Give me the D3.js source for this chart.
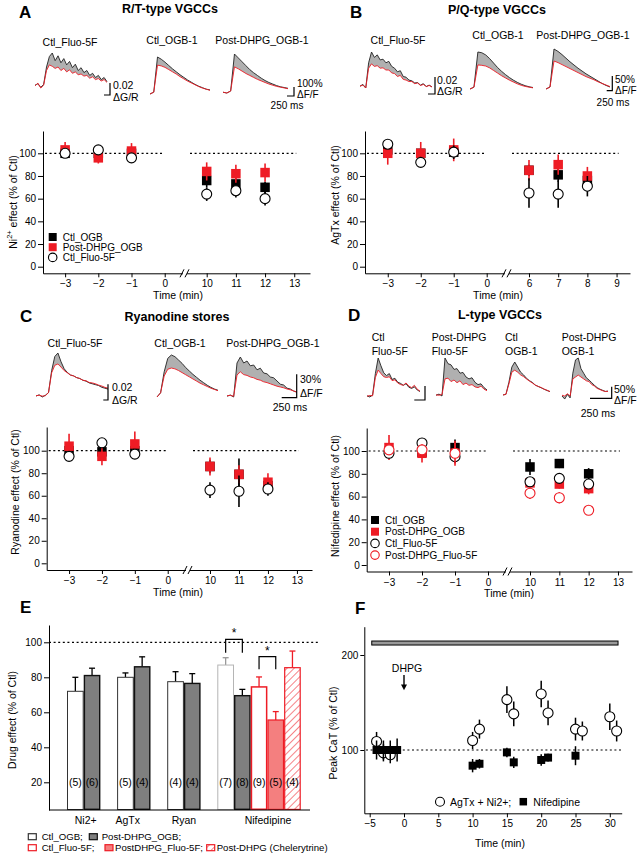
<!DOCTYPE html>
<html><head><meta charset="utf-8">
<script src="https://cdn.jsdelivr.net/npm/d3@7"></script>
<style>body{margin:0;background:#fff} svg{display:block}</style>
</head><body><svg id="c" width="639" height="853"></svg>
<script>
// ---------------- DATA ----------------
// Panel A: R/T-type VGCCs (Ni2+)
const timeA = [-3,-2,-1,10,11,12];
const ticksA = [-3,-2,-1,0,10,11,12,13];
const niCtlOGB = [100,100,100,76,73,70];
const niCtlOGBErr = [3,3,3,6,5,5];
const niPostOGB = [103,96,102,84,82,83];
const niPostOGBErr = [7,5,7,8,8,8];
const niCtlFluo = [100,103,96,64,67,60];
const niCtlFluoErr = [4,4,4,6,6,6];
// Panel B: P/Q-type VGCCs (AgTx)
const timeB = [-3,-2,-1,6,7,8];
const ticksB = [-3,-2,-1,0,6,7,8,9];
const agCtlOGB = [103,100,101,85,81,76];
const agCtlOGBErr = [4,3,3,5,6,4];
const agPostOGB = [100,100,103,85,90,80];
const agPostOGBErr = [10,10,10,9,9,8];
const agCtlFluo = [108,92,101,65,64,71];
const agCtlFluoErr = [3,4,6,13,12,9];
// Panel C: Ryanodine stores
const timeC = [-3,-2,-1,10,11,12];
const ticksC = [-3,-2,-1,0,10,11,12,13];
const ryCtlOGB = [100,99,100,86,79,69];
const ryCtlOGBErr = [4,4,4,6,14,5];
const ryPostOGB = [104,95,106,86,79,72];
const ryPostOGBErr = [11,8,11,8,8,8];
const ryCtlFluo = [95,107,97,65,64,66];
const ryCtlFluoErr = [3,3,3,7,14,6];
// Panel D: L-type VGCCs (Nifedipine)
const timeD = [-3,-2,-1,10,11,12];
const ticksD = [-3,-2,-1,0,10,11,12,13];
const nfCtlOGB = [100,99,103,86,89,80];
const nfCtlOGBErr = [4,4,7,7,4,5];
const nfPostOGB = [103,98,98,72,71,67];
const nfPostOGBErr = [11,8,9,4,4,5];
const nfCtlFluo = [98,107,95,73,76,71];
const nfCtlFluoErr = [4,3,5,4,3,4];
const nfPostFluo = [101,101,98,63,59,48];
const nfPostFluoErr = [3,5,11,5,5,4];
const yTicksPct = [0,20,40,60,80,100];

// Panel E: drug effect summary
const eGroups = ["Ni2+","AgTx","Ryan","Nifedipine"];
const eSeries = ["Ctl_OGB;","Post-DHPG_OGB;","Ctl_Fluo-5F;","PostDHPG_Fluo-5F;","Post-DHPG (Chelerytrine)"];
const eValues = [[72,81],[80,86],[77.5,76.5],[87,69.5,74.5,55.6,85.5]];
const eErrors = [[8,4.2],[2.5,5.7],[5.7,5.6],[4.2,3.6,5.7,4.8,9.5]];
const eN = [[5,6],[5,4],[4,4],[7,8,9,5,4]];
const eTicks = [20,40,60,80,100];

// Panel F: time course
const fTimeAgNi = [-4,-3,-2,10,11,15,16,20,21,25,26,30,31];
const fAgNi = [109,97,95,110,122,153,138,159,139,122,120,135,120];
const fAgNiErr = [10,9,9,9,10,14,13,14,13,12,10,14,11];
const fTimeNif = [-4,-3,-2,-1,10,11,15,16,20,21,25];
const fNif = [100,100,100,100,83.5,85.5,97.5,87,89.5,92,94];
const fNifErr = [10,10,10,12,7,5,5,6,6,4,10];
const fTicksX = [-5,0,5,10,15,20,25,30];
const fTicksY = [100,200];
const fDrugPeriod = [-4.7,31.2];
const fDrugLevel = [210.5,214.7];
const fDHPGTime = 0;

// Example Ca transients (normalised amplitude, ctl = black, drug = red)
const trA1Ctl = [0.08,0.12,0.02,0.1,0.6,0.9,1.0,0.78,0.92,0.72,0.84,0.66,0.76,0.58,0.68,0.5,0.58,0.44,0.5,0.36,0.42,0.3,0.36,0.24,0.3,0.18];
const trA1Drug = [0.06,0.14,0.0,0.08,0.5,0.66,0.62,0.56,0.6,0.5,0.56,0.46,0.52,0.42,0.46,0.38,0.4,0.34,0.36,0.28,0.32,0.24,0.27,0.2,0.24,0.16];
const trA2Ctl = [0,0.05,1.0,0.94,0.86,0.77,0.68,0.6,0.52,0.45,0.38,0.32,0.26,0.21,0.17,0.13,0.11];
const trA2Drug = [0,0.05,0.78,0.76,0.72,0.66,0.6,0.54,0.47,0.41,0.35,0.3,0.25,0.2,0.16,0.13,0.1];
const trA3Ctl = [0.02,0.0,0.05,1.0,0.9,0.8,0.7,0.6,0.52,0.45,0.38,0.32,0.27,0.23,0.19,0.16,0.14,0.12];
const trA3Drug = [0.02,0.0,0.05,0.67,0.62,0.56,0.5,0.45,0.4,0.35,0.31,0.27,0.23,0.2,0.17,0.15,0.13,0.11];
const trB1Ctl = [0.05,0.1,0.0,0.7,1.0,0.85,0.92,0.78,0.8,0.7,0.74,0.6,0.55,0.45,0.48,0.32,0.3,0.22,0.2,0.14,0.15,0.08,0.12,0.04,0.08,0.03];
const trB1Drug = [0.05,0.08,0.0,0.55,0.67,0.6,0.62,0.55,0.56,0.5,0.5,0.42,0.4,0.32,0.35,0.24,0.22,0.18,0.18,0.12,0.14,0.07,0.1,0.04,0.07,0.03];
const trB2Ctl = [0,0.05,1.0,0.98,0.92,0.82,0.7,0.58,0.48,0.39,0.31,0.24,0.18,0.13,0.09,0.06,0.04];
const trB2Drug = [0,0.05,0.65,0.64,0.62,0.57,0.5,0.43,0.36,0.3,0.24,0.19,0.14,0.1,0.07,0.05,0.03];
const trB3Ctl = [0,0.05,1.0,0.94,0.86,0.77,0.68,0.6,0.52,0.45,0.38,0.32,0.26,0.2,0.14,0.09,0.05];
const trB3Drug = [0,0.05,0.7,0.66,0.61,0.56,0.51,0.46,0.41,0.36,0.31,0.27,0.23,0.18,0.14,0.1,0.06];
const trC1Ctl = [0.02,0.05,0.0,0.04,0.1,0.6,0.92,1.0,0.8,0.64,0.56,0.5,0.48,0.44,0.42,0.38,0.36,0.32,0.3,0.28,0.26,0.22,0.2,0.18];
const trC1Drug = [0.03,0.04,0.02,0.03,0.1,0.55,0.72,0.75,0.68,0.6,0.55,0.5,0.48,0.44,0.42,0.38,0.37,0.33,0.32,0.3,0.27,0.25,0.22,0.2];
const trC2Ctl = [0,0.1,0.6,0.92,1.0,0.96,0.88,0.8,0.7,0.62,0.54,0.47,0.4,0.34,0.28,0.23,0.19,0.16];
const trC2Drug = [0,0.1,0.5,0.66,0.69,0.67,0.63,0.58,0.53,0.48,0.43,0.38,0.33,0.29,0.25,0.21,0.18,0.15];
const trC3Ctl = [0.02,0.05,0.0,0.85,1.0,0.85,0.9,0.78,0.8,0.68,0.72,0.6,0.58,0.5,0.48,0.4,0.32,0.3,0.22,0.2,0.15,0.12];
const trC3Drug = [0.03,0.04,0.02,0.55,0.63,0.56,0.54,0.5,0.48,0.44,0.42,0.38,0.36,0.33,0.3,0.27,0.25,0.23,0.2,0.18,0.15,0.12];
const trD1Ctl = [0.03,0.0,0.05,0.6,1.0,0.8,0.62,0.55,0.6,0.45,0.48,0.38,0.35,0.3,0.34,0.25,0.22,0.26,0.18,0.14];
const trD1Drug = [0.02,0.04,0.03,0.5,0.69,0.6,0.52,0.5,0.52,0.42,0.44,0.36,0.32,0.3,0.36,0.28,0.24,0.3,0.2,0.15];
const trD2Ctl = [0.02,0.05,0.0,1.0,0.85,0.82,0.7,0.72,0.6,0.62,0.5,0.45,0.48,0.36,0.3,0.32,0.22,0.16];
const trD2Drug = [0.03,0.02,0.04,0.45,0.47,0.38,0.42,0.35,0.4,0.3,0.34,0.28,0.3,0.24,0.22,0.26,0.18,0.14];
const trD3Ctl = [0.03,0.05,0.4,0.85,1.0,0.85,0.7,0.62,0.52,0.45,0.4,0.32,0.28,0.24,0.2,0.16,0.13];
const trD3Drug = [0.03,0.05,0.35,0.7,0.76,0.7,0.62,0.57,0.5,0.44,0.38,0.32,0.28,0.25,0.2,0.17,0.13];
const trD4Ctl = [0.0,-0.08,0.04,-0.05,0.6,0.95,1.0,0.72,0.6,0.48,0.42,0.35,0.28,0.22,0.18,0.15,0.12,0.13];
const trD4Drug = [0.02,0.0,0.06,0.0,0.45,0.5,0.55,0.5,0.45,0.4,0.38,0.3,0.26,0.2,0.17,0.14,0.12,0.12];

// ---------------- DRAWING ----------------
const FONT = '"Liberation Sans", Arial, Helvetica, sans-serif';
const RED = "#ee1c25";
const svg = d3.select("#c").attr("font-family", FONT);

function txt(x, y, s, o = {}) {
  return svg.append("text").attr("x", x).attr("y", y).text(s)
    .attr("font-size", o.size || 10).attr("text-anchor", o.anchor || "start")
    .attr("font-weight", o.weight || "normal").attr("fill", o.fill || "#000")
    .attr("dominant-baseline", "central");
}
function vtxt(x, y, s, size) {
  return svg.append("text").attr("transform", `translate(${x},${y}) rotate(-90)`)
    .attr("text-anchor", "middle").attr("dominant-baseline", "central")
    .attr("font-size", size || 10.5).text(s);
}
function styleAxis(a) {
  a.attr("font-family", FONT).attr("font-size", 10);
  a.selectAll("path,line").attr("stroke", "#000").attr("stroke-width", 1);
  a.selectAll("text").attr("fill", "#000");
}
function hatchDefs() {
  const p = svg.append("defs").append("pattern").attr("id", "hatch")
    .attr("patternUnits", "userSpaceOnUse").attr("width", 5).attr("height", 5)
    .attr("patternTransform", "rotate(45)");
  p.append("rect").attr("width", 5).attr("height", 5).attr("fill", "#fff");
  p.append("line").attr("x1", 0).attr("y1", 0).attr("x2", 0).attr("y2", 5)
    .attr("stroke", RED).attr("stroke-width", 1.1);
}
hatchDefs();

function marker(g, cx, cy, shape, color, size) {
  if (shape === "square") {
    g.append("rect").attr("x", cx - size / 2).attr("y", cy - size / 2)
      .attr("width", size).attr("height", size).attr("fill", color);
  } else {
    g.append("circle").attr("cx", cx).attr("cy", cy).attr("r", size / 2)
      .attr("fill", "#fff").attr("stroke", color).attr("stroke-width", 1.1);
  }
}

function scatterPanel(p) {
  const g = svg.append("g");
  const x = d3.scaleLinear().domain(p.xDom).range(p.xRng);
  const yb = d3.scaleLinear().domain([0, 100]).range([p.y0, p.y100]);
  const y = yb.copy().domain([yb.invert(p.bottom), yb.invert(p.top)]).range([p.bottom, p.top]);
  const ya = g.append("g").attr("transform", `translate(${p.xRng[0]},0)`)
    .call(d3.axisLeft(y).tickValues(yTicksPct).tickSize(5).tickPadding(2).tickSizeOuter(0));
  const xa = g.append("g").attr("transform", `translate(0,${p.bottom})`)
    .call(d3.axisBottom(x).tickValues(p.ticks).tickSize(4).tickPadding(3).tickSizeOuter(0));
  styleAxis(ya); styleAxis(xa);
  // axis break
  const bx = (p.xRng[1] + p.xRng[2]) / 2;
  g.append("rect").attr("x", bx - 2).attr("y", p.bottom - 2).attr("width", 4).attr("height", 4).attr("fill", "#fff");
  [-3, 2].forEach(d => g.append("line").attr("x1", bx + d - 2).attr("y1", p.bottom + 4)
    .attr("x2", bx + d + 2).attr("y2", p.bottom - 4).attr("stroke", "#000").attr("stroke-width", 1));
  // 100% reference lines
  const dash = (x1, x2) => g.append("line").attr("x1", x1).attr("x2", x2)
    .attr("y1", y(100)).attr("y2", y(100)).attr("stroke", "#000")
    .attr("stroke-width", 1.2).attr("stroke-dasharray", "2,2.6");
  dash(p.xRng[0] + 2, x(0) - 1);
  dash(p.xRng[2] + 3, x(p.ticks[p.ticks.length - 1]) + 2);
  // series
  p.series.forEach(s => {
    s.vals.forEach((v, i) => {
      g.append("line").attr("x1", x(p.time[i])).attr("x2", x(p.time[i]))
        .attr("y1", y(v - s.err[i])).attr("y2", y(v + s.err[i]))
        .attr("stroke", s.color).attr("stroke-width", 1.6);
    });
    s.vals.forEach((v, i) => marker(g, x(p.time[i]), y(v), s.shape, s.color, s.shape === "square" ? 9.5 : 10));
  });
  // legend
  if (p.legend) {
    p.series.forEach((s, i) => {
      const ly = p.legend.y + i * p.legend.dy;
      marker(g, p.legend.x, ly, s.shape, s.color, s.shape === "square" ? 8 : 8.5);
      txt(p.legend.x + 10, ly, s.name, { size: 10 });
    });
  }
  txt(p.timeX, p.timeY, "Time (min)", { size: 10.5, anchor: "middle" });
}

function tracePanel(list) {
  list.forEach(t => {
    const n = t.ctl.length;
    const x = d3.scaleLinear().domain([0, n - 1]).range([t.x0, t.x1]);
    const y = d3.scaleLinear().domain([0, 1]).range([t.base, t.base - t.amp]);
    const idx = d3.range(n);
    svg.append("path").datum(idx)
      .attr("d", d3.area().x(i => x(i)).y0(i => y(t.drug[i])).y1(i => y(t.ctl[i])))
      .attr("fill", "#b0b0b0");
    svg.append("path").datum(t.ctl).attr("d", d3.line().x((d, i) => x(i)).y(d => y(d)))
      .attr("fill", "none").attr("stroke", "#222").attr("stroke-width", 0.9);
    svg.append("path").datum(t.drug).attr("d", d3.line().x((d, i) => x(i)).y(d => y(d)))
      .attr("fill", "none").attr("stroke", RED).attr("stroke-width", 0.9);
  });
}
function scaleBar(b) {
  svg.append("path").attr("d", `M${b.hx},${b.y2}H${b.x}V${b.y1}`)
    .attr("fill", "none").attr("stroke", "#000").attr("stroke-width", 1.2);
}

// ---- titles ----
txt(19, 12, "A", { size: 17, weight: "bold" });
txt(170, 9, "R/T-type VGCCs", { size: 12.5, weight: "bold", anchor: "middle" });
txt(350, 12, "B", { size: 17, weight: "bold" });
txt(497, 10, "P/Q-type VGCCs", { size: 12.5, weight: "bold", anchor: "middle" });
txt(20, 316, "C", { size: 17, weight: "bold" });
txt(177, 317, "Ryanodine stores", { size: 12.5, weight: "bold", anchor: "middle" });
txt(348, 315, "D", { size: 17, weight: "bold" });
txt(500, 315, "L-type VGCCs", { size: 12.5, weight: "bold", anchor: "middle" });
txt(20, 607, "E", { size: 17, weight: "bold" });
txt(355, 608, "F", { size: 17, weight: "bold" });

// ---- trace labels ----
txt(70, 42, "Ctl_Fluo-5F", { anchor: "middle", size: 10.5 });
txt(172, 40, "Ctl_OGB-1", { anchor: "middle", size: 10.5 });
txt(262, 40, "Post-DHPG_OGB-1", { anchor: "middle", size: 10.5 });
txt(398, 40, "Ctl_Fluo-5F", { anchor: "middle", size: 10.5 });
txt(498, 35, "Ctl_OGB-1", { anchor: "middle", size: 10.5 });
txt(583, 35, "Post-DHPG_OGB-1", { anchor: "middle", size: 10.5 });
txt(75, 343, "Ctl_Fluo-5F", { anchor: "middle", size: 10.5 });
txt(180, 343, "Ctl_OGB-1", { anchor: "middle", size: 10.5 });
txt(273, 343, "Post-DHPG_OGB-1", { anchor: "middle", size: 10.5 });
[["Ctl", "Fluo-5F", 371.7], ["Post-DHPG", "Fluo-5F", 431.7], ["Ctl", "OGB-1", 505], ["Post-DHPG", "OGB-1", 561.7]]
  .forEach(l => { txt(l[2], 337, l[0], { size: 10.5 }); txt(l[2], 350.5, l[1], { size: 10.5 }); });

// ---- traces ----
tracePanel([
  { x0: 35, x1: 107, base: 88, amp: 35, ctl: trA1Ctl, drug: trA1Drug },
  { x0: 150, x1: 210, base: 94, amp: 37, ctl: trA2Ctl, drug: trA2Drug },
  { x0: 223, x1: 288, base: 93, amp: 39, ctl: trA3Ctl, drug: trA3Drug },
  { x0: 360, x1: 432, base: 88, amp: 36, ctl: trB1Ctl, drug: trB1Drug },
  { x0: 470, x1: 533, base: 89, amp: 37, ctl: trB2Ctl, drug: trB2Drug },
  { x0: 546, x1: 610, base: 89, amp: 40, ctl: trB3Ctl, drug: trB3Drug },
  { x0: 36, x1: 108, base: 397, amp: 44, ctl: trC1Ctl, drug: trC1Drug },
  { x0: 157, x1: 218, base: 397, amp: 42, ctl: trC2Ctl, drug: trC2Drug },
  { x0: 227, x1: 297, base: 397, amp: 40, ctl: trC3Ctl, drug: trC3Drug },
  { x0: 367, x1: 420, base: 397, amp: 39, ctl: trD1Ctl, drug: trD1Drug },
  { x0: 436, x1: 487, base: 396, amp: 38, ctl: trD2Ctl, drug: trD2Drug },
  { x0: 503, x1: 550, base: 396, amp: 34, ctl: trD3Ctl, drug: trD3Drug },
  { x0: 562, x1: 608, base: 396, amp: 38, ctl: trD4Ctl, drug: trD4Drug }
]);
[
  { x: 110, y1: 83, y2: 95, hx: 104 }, { x: 294, y1: 87, y2: 96, hx: 287 },
  { x: 435, y1: 77, y2: 94, hx: 428 }, { x: 612.3, y1: 76, y2: 90.7, hx: 606.7 },
  { x: 108, y1: 384.3, y2: 400, hx: 103.3 }, { x: 296.7, y1: 374.3, y2: 397.7, hx: 281.7 },
  { x: 425, y1: 386, y2: 400, hx: 414.3 }, { x: 611.7, y1: 386.7, y2: 398.3, hx: 590 }
].forEach(scaleBar);
const sb = { size: 10.5 };
txt(113, 85, "0.02", sb); txt(113, 97, "\u0394G/R", sb);
txt(297, 83.5, "100%", { size: 10 }); txt(297, 94, "\u0394F/F", { size: 10 }); txt(287, 105.5, "250 ms", { size: 10, anchor: "middle" });
txt(437, 80, "0.02", sb); txt(437, 91, "\u0394G/R", sb);
txt(615, 79.5, "50%", { size: 10 }); txt(615, 90, "\u0394F/F", { size: 10 }); txt(613, 102, "250 ms", { size: 10, anchor: "middle" });
txt(112, 387, "0.02", sb); txt(112, 400, "\u0394G/R", sb);
txt(300, 379, "30%", sb); txt(300, 392.7, "\u0394F/F", sb); txt(290, 407.3, "250 ms", { size: 10.5, anchor: "middle" });
txt(614, 388.5, "50%", sb); txt(614, 400, "\u0394F/F", sb); txt(598, 413.3, "250 ms", { size: 10.5, anchor: "middle" });

// ---- scatter panels ----
scatterPanel({
  time: timeA, ticks: ticksA, xDom: [-3.666, 0.551, 9.325, 13.54], xRng: [43, 183, 187, 310],
  y0: 266.7, y100: 153.3, bottom: 273.3, top: 131, timeX: 178, timeY: 295,
  legend: { x: 52.7, y: 237, dy: 10.2 },
  series: [
    { name: "Ctl_OGB", vals: niCtlOGB, err: niCtlOGBErr, shape: "square", color: "#000" },
    { name: "Post-DHPG_OGB", vals: niPostOGB, err: niPostOGBErr, shape: "square", color: RED },
    { name: "Ctl_Fluo-5F", vals: niCtlFluo, err: niCtlFluoErr, shape: "circle", color: "#000" }
  ]
});
scatterPanel({
  time: timeB, ticks: ticksB, xDom: [-3.69, 0.555, 5.315, 9.46], xRng: [365, 505, 509, 630],
  y0: 266.7, y100: 153.3, bottom: 273.3, top: 131, timeX: 498, timeY: 295,
  series: [
    { name: "Ctl_OGB", vals: agCtlOGB, err: agCtlOGBErr, shape: "square", color: "#000" },
    { name: "Post-DHPG_OGB", vals: agPostOGB, err: agPostOGBErr, shape: "square", color: RED },
    { name: "Ctl_Fluo-5F", vals: agCtlFluo, err: agCtlFluoErr, shape: "circle", color: "#000" }
  ]
});
scatterPanel({
  time: timeC, ticks: ticksC, xDom: [-3.68, 0.556, 9.31, 13.52], xRng: [46.7, 186, 190, 312],
  y0: 563.3, y100: 450.7, bottom: 570, top: 427, timeX: 178, timeY: 592,
  series: [
    { name: "Ctl_OGB", vals: ryCtlOGB, err: ryCtlOGBErr, shape: "square", color: "#000" },
    { name: "Post-DHPG_OGB", vals: ryPostOGB, err: ryPostOGBErr, shape: "square", color: RED },
    { name: "Ctl_Fluo-5F", vals: ryCtlFluo, err: ryCtlFluoErr, shape: "circle", color: "#000" }
  ]
});
scatterPanel({
  time: timeD, ticks: ticksD, xDom: [-3.676, 0.545, 9.318, 13.478], xRng: [366.7, 506, 510, 632],
  y0: 565, y100: 451, bottom: 571.5, top: 428, timeX: 509, timeY: 593,
  legend: { x: 375, y: 520, dy: 11.7 },
  series: [
    { name: "Ctl_OGB", vals: nfCtlOGB, err: nfCtlOGBErr, shape: "square", color: "#000" },
    { name: "Post-DHPG_OGB", vals: nfPostOGB, err: nfPostOGBErr, shape: "square", color: RED },
    { name: "Ctl_Fluo-5F", vals: nfCtlFluo, err: nfCtlFluoErr, shape: "circle", color: "#000" },
    { name: "Post-DHPG_Fluo-5F", vals: nfPostFluo, err: nfPostFluoErr, shape: "circle", color: RED }
  ]
});
// y labels A-D
(function () {
  const t = svg.append("text").attr("transform", "translate(13,202) rotate(-90)")
    .attr("text-anchor", "middle").attr("dominant-baseline", "central").attr("font-size", 10.5);
  t.append("tspan").text("Ni");
  t.append("tspan").text("2+").attr("font-size", 7.5).attr("dy", -4);
  t.append("tspan").text(" effect (% of Ctl)").attr("dy", 4);
})();
vtxt(335, 195, "AgTx effect (% of Ctl)");
vtxt(15, 492, "Ryanodine effect (% of Ctl)");
vtxt(335, 496, "Nifedipine effect (% of Ctl)");

// ---- Panel E ----
(function () {
  const g = svg.append("g");
  const yb = d3.scaleLinear().domain([0, 100]).range([817.3, 642.3]);
  const y = yb.copy().domain([yb.invert(810), yb.invert(625)]).range([810, 625]);
  // slot layout: bars contiguous within a group, one empty slot between groups
  const slots = [];
  let s = 0;
  eValues.forEach((grp, gi) => { grp.forEach((v, si) => { slots.push({ gi, si, slot: s, v, e: eErrors[gi][si], n: eN[gi][si] }); s++; }); s++; });
  const band = d3.scaleBand().domain(d3.range(s - 1)).range([67, 67 + 16.7 * (s - 1)]).padding(0);
  const styles = [
    { fill: "#fff", stroke: "#333", w: 1 },
    { fill: "#7f7f7f", stroke: "#111", w: 1.4 },
    { fill: "#fff", stroke: RED, w: 1.5 },
    { fill: "#f47f7f", stroke: RED, w: 1.2 },
    { fill: "url(#hatch)", stroke: RED, w: 1.2 }
  ];
  g.append("line").attr("x1", 49).attr("x2", 320).attr("y1", y(100)).attr("y2", y(100))
    .attr("stroke", "#000").attr("stroke-width", 1.2).attr("stroke-dasharray", "2,2.6");
  slots.forEach(b => {
    const st = styles[b.si];
    const stroke = (b.si === 0 && b.gi === 3) ? "#b5b5b5" : st.stroke;
    const x0 = band(b.slot), w = band.bandwidth();
    const ec = b.si >= 2 ? RED : (b.si === 0 && b.gi === 3 ? "#999" : "#000");
    g.append("line").attr("x1", x0 + w / 2).attr("x2", x0 + w / 2).attr("y1", y(b.v)).attr("y2", y(b.v + b.e))
      .attr("stroke", ec).attr("stroke-width", 1.3);
    g.append("line").attr("x1", x0 + w / 2 - 3).attr("x2", x0 + w / 2 + 3).attr("y1", y(b.v + b.e)).attr("y2", y(b.v + b.e))
      .attr("stroke", ec).attr("stroke-width", 1.3);
    g.append("rect").attr("x", x0 + st.w / 2).attr("y", y(b.v)).attr("width", w - st.w)
      .attr("height", 810 - y(b.v) - st.w / 2).attr("fill", st.fill).attr("stroke", stroke).attr("stroke-width", st.w);
    g.append("text").attr("x", x0 + w / 2).attr("y", 782).attr("text-anchor", "middle")
      .attr("dominant-baseline", "central").attr("font-size", 10.5).text(`(${b.n})`);
  });
  const ya = g.append("g").attr("transform", "translate(49,0)")
    .call(d3.axisLeft(y).tickValues(eTicks).tickSize(5).tickPadding(2).tickSizeOuter(0));
  styleAxis(ya);
  g.append("line").attr("x1", 49).attr("x2", 310).attr("y1", 810).attr("y2", 810).attr("stroke", "#000");
  // group labels
  const labDx = [2, -6, 0, 9];
  eGroups.forEach((name, gi) => {
    const gs = slots.filter(b => b.gi === gi);
    const cx = (band(gs[0].slot) + band(gs[gs.length - 1].slot) + band.bandwidth()) / 2 + labDx[gi];
    txt(cx, 820, name, { size: 10.5, anchor: "middle" });
  });
  // significance brackets
  const bracket = (sa, sb2, top, leg) => {
    const xa = band(sa) + band.bandwidth() / 2, xb = band(sb2) + band.bandwidth() / 2;
    g.append("path").attr("d", `M${xa},${y(leg)}V${y(top)}H${xb}V${y(leg)}`)
      .attr("fill", "none").attr("stroke", "#000").attr("stroke-width", 1.2);
    txt((xa + xb) / 2, y(top) - 6, "*", { size: 12, anchor: "middle" });
  };
  const nif = slots.filter(b => b.gi === 3);
  bracket(nif[0].slot, nif[1].slot, 101.7, 94);
  bracket(nif[2].slot, nif[3].slot, 91.8, 84.6);
  vtxt(12, 720, "Drug effect (% of Ctl)");
  // legend
  const leg = [[0, 28.3, 836.7, 41.7], [1, 89.3, 836.7, 101.7], [2, 28.3, 847.7, 41.7], [3, 105, 847.7, 115], [4, 206.7, 847.7, 216.7]];
  leg.forEach(l => {
    const st = styles[l[0]];
    g.append("rect").attr("x", l[1]).attr("y", l[2] - 3).attr("width", 8).attr("height", 6)
      .attr("fill", st.fill).attr("stroke", st.stroke).attr("stroke-width", 1.2);
    txt(l[3], l[2], eSeries[l[0]], { size: 9.6 });
  });
})();

// ---- Panel F ----
(function () {
  const g = svg.append("g");
  const x = d3.scaleLinear().domain([0, 5]).range([404, 438.3]);
  const xs = x.copy().domain([x.invert(364.3), x.invert(621.7)]).range([364.3, 621.7]);
  const yb = d3.scaleLinear().domain([100, 200]).range([750, 655]);
  const y = yb.copy().domain([yb.invert(813.3), yb.invert(626.7)]).range([813.3, 626.7]);
  const ya = g.append("g").attr("transform", "translate(364.3,0)")
    .call(d3.axisLeft(y).tickValues(fTicksY).tickSize(4).tickPadding(2).tickSizeOuter(0));
  const xa = g.append("g").attr("transform", "translate(0,813.3)")
    .call(d3.axisBottom(xs).tickValues(fTicksX).tickSize(4).tickPadding(3).tickSizeOuter(0));
  styleAxis(ya); styleAxis(xa);
  g.append("line").attr("x1", 366).attr("x2", 621).attr("y1", y(100)).attr("y2", y(100))
    .attr("stroke", "#000").attr("stroke-width", 1.2).attr("stroke-dasharray", "2,2.6");
  g.append("rect").attr("x", xs(fDrugPeriod[0])).attr("y", y(fDrugLevel[1]))
    .attr("width", xs(fDrugPeriod[1]) - xs(fDrugPeriod[0])).attr("height", y(fDrugLevel[0]) - y(fDrugLevel[1]))
    .attr("fill", "#999").attr("stroke", "#000").attr("stroke-width", 1);
  // DHPG arrow
  const ax = xs(fDHPGTime);
  g.append("line").attr("x1", ax).attr("x2", ax).attr("y1", y(179)).attr("y2", y(168)).attr("stroke", "#000").attr("stroke-width", 1.4);
  g.append("path").attr("d", `M${ax - 3},${y(169)}L${ax + 3},${y(169)}L${ax},${y(163)}Z`).attr("fill", "#000");
  txt(ax + 3, 668, "DHPG", { size: 10.5, anchor: "middle" });
  fTimeAgNi.forEach((t, i) => g.append("line").attr("x1", xs(t)).attr("x2", xs(t))
    .attr("y1", y(fAgNi[i] - fAgNiErr[i])).attr("y2", y(fAgNi[i] + fAgNiErr[i])).attr("stroke", "#000").attr("stroke-width", 1.5));
  fTimeAgNi.forEach((t, i) => marker(g, xs(t), y(fAgNi[i]), "circle", "#000", 10));
  fTimeNif.forEach((t, i) => g.append("line").attr("x1", xs(t)).attr("x2", xs(t))
    .attr("y1", y(fNif[i] - fNifErr[i])).attr("y2", y(fNif[i] + fNifErr[i])).attr("stroke", "#000").attr("stroke-width", 1.5));
  fTimeNif.forEach((t, i) => marker(g, xs(t), y(fNif[i]), "square", "#000", 8));
  marker(g, 440, 801.7, "circle", "#000", 9);
  txt(450, 801.7, "AgTx + Ni2+;", { size: 10.5 });
  marker(g, 523.3, 801.7, "square", "#000", 7.5);
  txt(533.3, 801.7, "Nifedipine", { size: 10.5 });
  txt(500, 843.3, "Time (min)", { size: 10.5, anchor: "middle" });
  vtxt(333, 733, "Peak CaT (% of Ctl)");
})();
</script></body></html>
